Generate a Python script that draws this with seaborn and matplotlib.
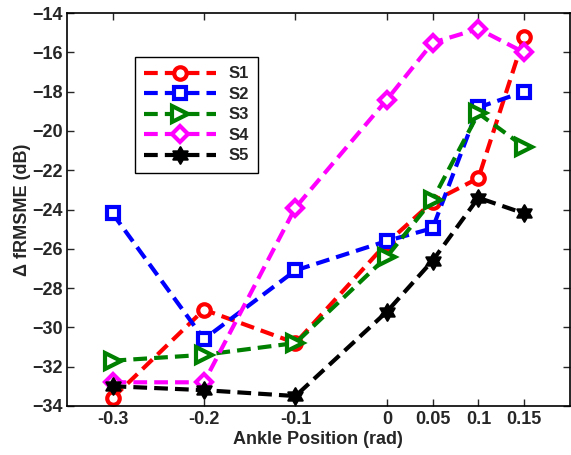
import matplotlib
matplotlib.use("Agg")
import matplotlib.pyplot as plt
from matplotlib.path import Path
import numpy as np
import seaborn as sns
import pandas as pd

positions = [-0.3, -0.2, -0.1, 0, 0.05, 0.1, 0.15]
tick_labels = ["-0.3", "-0.2", "-0.1", "0", "0.05", "0.1", "0.15"]
s1 = [-33.6, -29.1, -30.8, -25.7, -23.6, -22.4, -15.2]
s2 = [-24.2, -30.6, -27.1, -25.6, -24.95, -18.8, -18.0]
s3 = [-31.7, -31.4, -30.8, -26.4, -23.5, -19.1, -20.8]
s4 = [-32.8, -32.8, -23.9, -18.4, -15.5, -14.8, -16.0]
s5 = [-33.0, -33.2, -33.5, -29.2, -26.6, -23.4, -24.2]
names = ["S1", "S2", "S3", "S4", "S5"]
series = [s1, s2, s3, s4, s5]

sns.set_style("ticks")
plt.rcParams["font.family"] = ["Liberation Sans", "DejaVu Sans"]
plt.rcParams["font.weight"] = "bold"

# hexagram marker shape (MATLAB 'h')
ang = np.pi / 2 + np.arange(12) * np.pi / 6
rad = np.where(np.arange(12) % 2 == 0, 1.0, 1 / np.sqrt(3))
verts = np.column_stack([rad * np.cos(ang), rad * np.sin(ang)])
verts = np.vstack([verts, verts[:1]])
hexagram = Path(verts, [Path.MOVETO] + [Path.LINETO] * 11 + [Path.CLOSEPOLY])

colors = ["#ff0000", "#0000ff", "#008000", "#ff00ff", "#000000"]
markers = ["o", "s", ">", "D", hexagram]
msizes = [9, 8.5, 11, 8.5, 12]
mews = [3, 3, 3, 3, 1.5]
faces = ["white", "white", "white", "white", "black"]

fig = plt.figure(figsize=(5.71, 4.55), dpi=100)
ax = fig.add_axes([0.117, 0.108, 0.881, 0.863])

handles = []
for name, vals, c, m, ms, mw, fc in zip(names, series, colors, markers, msizes, mews, faces):
    df = pd.DataFrame({"x": positions, "y": vals})
    sns.lineplot(data=df, x="x", y="y", ax=ax, color=c, marker=m, markersize=ms,
                 markerfacecolor=fc, markeredgecolor=c, markeredgewidth=mw,
                 linewidth=3, linestyle=(0, (3.3, 1.7)), label=name, legend=False)
    handles.append(ax.lines[-1])

ax.set_xlim(-0.35, 0.2)
ax.set_ylim(-34, -14)
ax.set_xticks(positions)
ax.set_xticklabels(tick_labels)
ax.set_yticks(range(-34, -13, 2))
ax.tick_params(direction="in", top=True, right=True, labelsize=13, length=5, width=1, pad=4)
ax.tick_params(axis="y", pad=3)
for lab in ax.get_xticklabels() + ax.get_yticklabels():
    lab.set_fontweight("bold")
for sp in ax.spines.values():
    sp.set_linewidth(1.2)
    sp.set_color("black")
ax.set_xlabel("Ankle Position (rad)", fontsize=13, fontweight="bold", labelpad=2)
ax.set_ylabel("\u0394 fRMSME (dB)", fontsize=13, fontweight="bold", labelpad=1)

leg = ax.legend(handles=handles, labels=names, loc="upper left",
                bbox_to_anchor=(0.135, 0.888), borderaxespad=0, fancybox=False,
                framealpha=1, edgecolor="black", fontsize=12, handlelength=4.3,
                labelspacing=0.33, borderpad=0.55, handletextpad=0.8)
leg.get_frame().set_linewidth(1.0)
for t in leg.get_texts():
    t.set_fontweight("bold")

fig.savefig("out.png", dpi=100)
